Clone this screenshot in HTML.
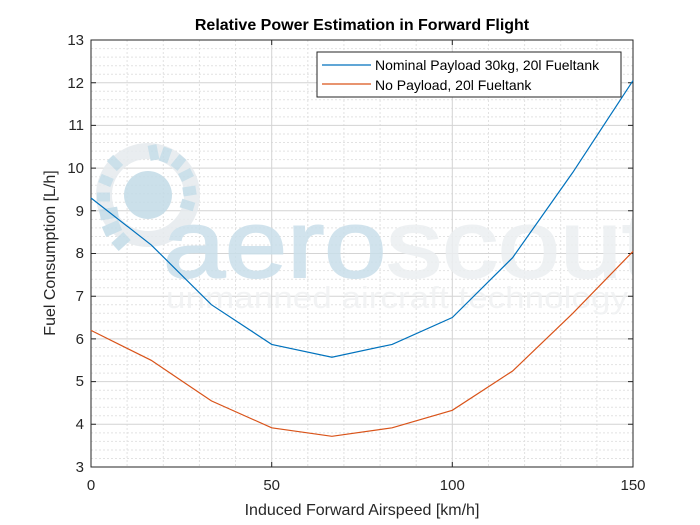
<!DOCTYPE html>
<html><head><meta charset="utf-8"><style>
html,body{margin:0;padding:0;background:#fff}
svg{display:block;font-family:"Liberation Sans",Arial,sans-serif}
</style></head><body>
<svg width="700" height="525" viewBox="0 0 700 525" xmlns="http://www.w3.org/2000/svg">
<defs><clipPath id="pc"><rect x="91" y="40" width="542" height="427"/></clipPath></defs>
<rect width="700" height="525" fill="#fff"/>
<rect x="91" y="40" width="542" height="427" fill="#fff"/>
<g stroke="#e2e2e2" stroke-width="1" stroke-dasharray="2,2">
<path d="M127.1 40V467M163.3 40V467M199.4 40V467M235.5 40V467M307.8 40V467M343.9 40V467M380.1 40V467M416.2 40V467M488.5 40V467M524.6 40V467M560.7 40V467M596.9 40V467"/>
<path d="M91 458.5H633M91 450H633M91 441.4H633M91 432.9H633M91 415.8H633M91 407.3H633M91 398.7H633M91 390.2H633M91 373.1H633M91 364.6H633M91 356H633M91 347.5H633M91 330.4H633M91 321.9H633M91 313.3H633M91 304.8H633M91 287.7H633M91 279.2H633M91 270.6H633M91 262.1H633M91 245H633M91 236.5H633M91 227.9H633M91 219.4H633M91 202.3H633M91 193.8H633M91 185.2H633M91 176.7H633M91 159.6H633M91 151.1H633M91 142.5H633M91 134H633M91 116.9H633M91 108.4H633M91 99.8H633M91 91.3H633M91 74.2H633M91 65.7H633M91 57.1H633M91 48.6H633"/>
</g>
<g stroke="#d4d4d4" stroke-width="1">
<path d="M271.7 40V467M452.3 40V467"/>
<path d="M91 424.3H633M91 381.6H633M91 338.9H633M91 296.2H633M91 253.5H633M91 210.8H633M91 168.1H633M91 125.4H633M91 82.7H633"/>
</g>
<g opacity="0.85" clip-path="url(#pc)">
<circle cx="148" cy="195" r="44" fill="none" stroke="#e6ebee" stroke-width="16"/>
<circle cx="148" cy="195" r="24" fill="#c3dbe7"/>
<g stroke="#c3dbe7" stroke-width="9">
<path d="M152 145L155 160M168 148L163 162M183 157L174 168M192 172L180 178M196 190L183 192M194 207L181 203M110 158L120 168M100 178L112 183M97 197L110 197"/>
</g>
<g stroke="#c3dbe7" stroke-width="11">
<path d="M100 215L118 212M104 232L120 225M115 247L127 236"/>
</g>
<text x="163" y="277" font-size="96" fill="#c9dfea" textLength="490" lengthAdjust="spacingAndGlyphs" stroke="#c9dfea" stroke-width="2">aero<tspan fill="#eceff1" stroke="#eceff1">scout</tspan></text>
<text x="166" y="308" font-size="31" fill="#f0f2f3" textLength="462" lengthAdjust="spacingAndGlyphs">unmanned aircraft technology</text>
</g>
<rect x="91" y="40" width="542" height="427" fill="none" stroke="#262626" stroke-width="1"/>
<g stroke="#262626" stroke-width="1">
<path d="M271.7 467v-5M452.3 467v-5M271.7 40v5M452.3 40v5"/>
<path d="M91 424.3h5M91 381.6h5M91 338.9h5M91 296.2h5M91 253.5h5M91 210.8h5M91 168.1h5M91 125.4h5M91 82.7h5M633 424.3h-5M633 381.6h-5M633 338.9h-5M633 296.2h-5M633 253.5h-5M633 210.8h-5M633 168.1h-5M633 125.4h-5M633 82.7h-5"/>
</g>
<polyline fill="none" stroke="#0072BD" stroke-width="1.2" points="91,198 151.2,244.9 211.4,304.7 271.7,344.4 331.9,357.2 392.1,344.4 452.3,317.5 512.6,257.7 572.8,172.4 633,80.6"/>
<polyline fill="none" stroke="#D95319" stroke-width="1.2" points="91,330.4 151.2,360.3 211.4,400.9 271.7,427.8 331.9,436.3 392.1,427.8 452.3,410.3 512.6,371 572.8,313.3 633,251.4"/>
<g font-size="15" fill="#262626" text-anchor="end">
<text x="84" y="472">3</text><text x="84" y="429">4</text><text x="84" y="386">5</text><text x="84" y="344">6</text><text x="84" y="301">7</text><text x="84" y="258">8</text><text x="84" y="216">9</text><text x="84" y="173">10</text><text x="84" y="130">11</text><text x="84" y="88">12</text><text x="84" y="45">13</text>
</g>
<g font-size="15" fill="#262626" text-anchor="middle">
<text x="91" y="490">0</text><text x="271.7" y="490">50</text><text x="452.3" y="490">100</text><text x="633" y="490">150</text>
</g>
<text x="362" y="515" font-size="16" fill="#262626" text-anchor="middle">Induced Forward Airspeed [km/h]</text>
<text transform="translate(55,253) rotate(-90)" font-size="16" fill="#262626" text-anchor="middle">Fuel Consumption [L/h]</text>
<text x="362" y="30" font-size="16" font-weight="bold" fill="#000" text-anchor="middle">Relative Power Estimation in Forward Flight</text>
<rect x="317" y="52" width="304" height="45" fill="#fff" stroke="#262626" stroke-width="1"/>
<line x1="322" y1="65" x2="371" y2="65" stroke="#0072BD" stroke-width="1.2"/>
<line x1="322" y1="84" x2="371" y2="84" stroke="#D95319" stroke-width="1.2"/>
<g font-size="14" fill="#000">
<text x="375" y="70">Nominal Payload 30kg, 20l Fueltank</text>
<text x="375" y="90">No Payload, 20l Fueltank</text>
</g>
</svg>
</body></html>
